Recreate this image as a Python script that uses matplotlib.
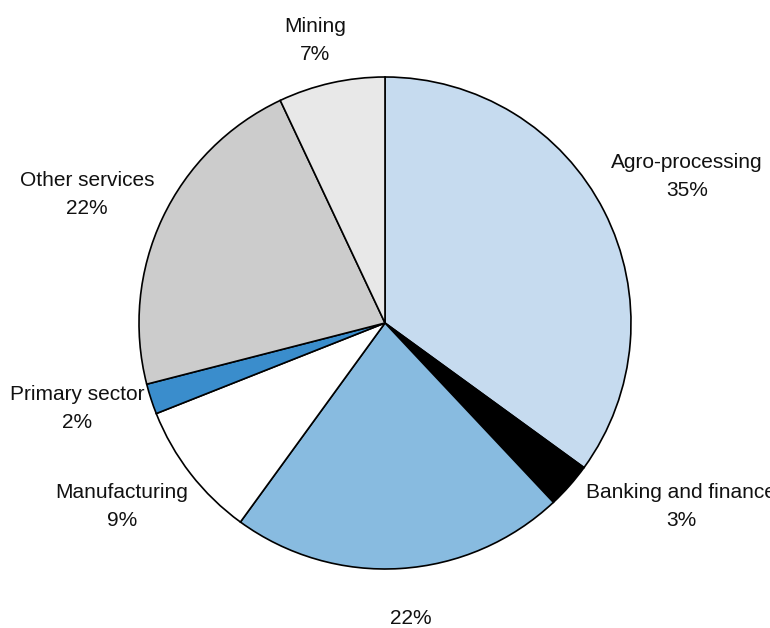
import matplotlib
matplotlib.use("Agg")
import matplotlib.pyplot as plt

# sector shares, clockwise from 12 o'clock
sectors = ["Agro-processing", "Banking and finance", "", "Manufacturing",
           "Primary sector", "Other services", "Mining"]
shares = [35, 3, 22, 9, 2, 22, 7]

colors = ["#c6dbef", "#000000", "#88bbe0", "#ffffff", "#3a8dcc", "#cccccc", "#e8e8e8"]

# label centres in pixels (x from left, y from top)
label_px = [(687, 177), (681, 507), (411, 618), (122, 507),
            (77, 409), (87, 194), (315, 40)]

W, H = 770, 628
cx, cy, r = 385, 323, 246

plt.rcParams["font.family"] = ["Liberation Sans", "DejaVu Sans"]

fig = plt.figure(figsize=(W / 100, H / 100), dpi=100)
ax = fig.add_axes([(cx - r) / W, (H - cy - r) / H, 2 * r / W, 2 * r / H])

ax.pie(shares, colors=colors, startangle=90, counterclock=False, radius=1,
       wedgeprops=dict(edgecolor="black", linewidth=1.2))
ax.set_xlim(-1, 1)
ax.set_ylim(-1, 1)
ax.axis("off")

for name, val, (px, py) in zip(sectors, shares, label_px):
    txt = f"{name}\n{val}%" if name else f"{val}%"
    ax.text((px - cx) / r, (cy - py) / r, txt, ha="center", va="center",
            fontsize=15, linespacing=1.6, color="#111111")

fig.savefig("out.png", dpi=100)
